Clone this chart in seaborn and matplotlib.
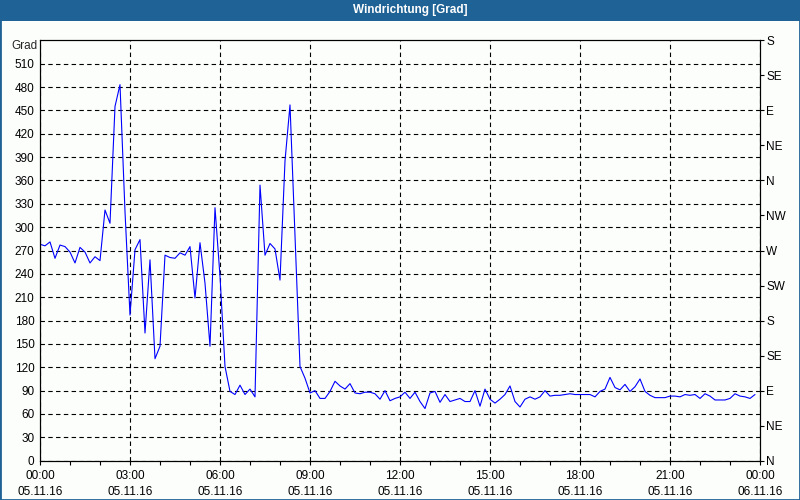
import numpy as np
import pandas as pd
import matplotlib
matplotlib.use('Agg')
import matplotlib.pyplot as plt
import matplotlib.dates as mdates
from matplotlib.patches import Rectangle
import seaborn as sns

# Windrichtung in Grad, 10-Minuten-Werte vom 05.11.16
grad = [278, 276, 281, 260, 277, 275, 268, 254, 274, 268, 254, 262, 257,
        322, 305, 455, 483, 320, 187, 271, 284, 164, 258, 131, 147, 264,
        261, 260, 267, 264, 275, 209, 280, 228, 147, 325, 237, 121, 89,
        85, 97, 85, 92, 82, 354, 264, 279, 272, 232, 385, 457, 290, 121,
        106, 87, 90, 80, 80, 89, 102, 96, 92, 99, 87, 86, 88, 88, 86,
        79, 90, 77, 80, 82, 88, 80, 88, 76, 67, 87, 89, 75, 85, 76, 78,
        80, 76, 76, 90, 70, 92, 79, 74, 79, 85, 96, 76, 69, 79, 82, 79,
        82, 90, 83, 84, 84, 85, 86, 85, 85, 85, 85, 82, 89, 92, 107, 94,
        91, 98, 89, 95, 105, 89, 84, 81, 81, 81, 83, 83, 82, 85, 84, 85,
        80, 86, 83, 78, 78, 78, 80, 86, 83, 82, 80, 85]
start = '2016-11-05 00:00'
ende = '2016-11-06 00:00'
grad_ticks = list(range(0, 511, 30))
richtung_ticks = list(range(0, 541, 45))
richtungen = ['N', 'NE', 'E', 'SE', 'S', 'SW', 'W', 'NW', 'N', 'NE', 'E', 'SE', 'S']

zeit = pd.date_range(start, periods=len(grad), freq='10min')
df = pd.DataFrame({'zeit': zeit, 'grad': grad})

bg = '#fcfefc'
blau = '#1f6295'
fs = 8.5

sns.set_style('white')
plt.rcParams['font.family'] = ['Liberation Sans', 'DejaVu Sans']
plt.rcParams['font.size'] = fs

fig = plt.figure(figsize=(8, 5), dpi=100, facecolor=bg)
ax = fig.add_axes([0.05, 0.0786, 0.9, 0.8408])
ax.set_facecolor(bg)

sns.lineplot(data=df, x='zeit', y='grad', ax=ax, color='#0000ff', linewidth=0.8)

ax.set_xlim(pd.Timestamp(start), pd.Timestamp(ende))
ax.set_ylim(0, 540)
ax.set_yticks(grad_ticks)
ax.set_xlabel('')
ax.set_ylabel('')

ax.xaxis.set_major_locator(mdates.HourLocator(byhour=range(0, 24, 3)))
ax.xaxis.set_minor_locator(mdates.HourLocator())
ax.xaxis.set_major_formatter(mdates.DateFormatter('%H:%M\n%d.%m.%y'))

ax.grid(True, axis='both', which='major', color='black', linestyle=(0, (4, 3)),
        linewidth=0.8)
ax.tick_params(axis='y', left=False, length=0, pad=4, labelsize=fs, colors='black')
ax.tick_params(axis='x', which='both', bottom=True, direction='out', length=3,
               width=0.8, pad=4, labelsize=fs, colors='black')
plt.setp(ax.get_xticklabels(), linespacing=1.4)

for s in ax.spines.values():
    s.set_color('black')
    s.set_linewidth(0.8)
    s.set_visible(True)

ax2 = ax.twinx()
ax2.set_ylim(0, 540)
ax2.set_yticks(richtung_ticks)
ax2.set_yticklabels(richtungen)
ax2.grid(False)
ax2.tick_params(axis='y', right=True, direction='out', length=3, width=0.8,
                pad=1.5, labelsize=fs, colors='black')
for s in ax2.spines.values():
    s.set_color('black')
    s.set_linewidth(0.8)

fig.text(37 / 800, 1 - 46 / 500, 'Grad', ha='right', va='center', fontsize=fs)

fig.patches.append(Rectangle((0, 1 - 21 / 500), 1, 21 / 500, transform=fig.transFigure,
                             facecolor=blau, edgecolor='none', zorder=0))
fig.text(410 / 800, 1 - 10.5 / 500, 'Windrichtung [Grad]', color='white',
         fontweight='bold', fontsize=8.5, ha='center', va='center')
fig.patches.append(Rectangle((0, 0), 1, 1, transform=fig.transFigure, fill=False,
                             edgecolor=blau, linewidth=2, zorder=5))

fig.savefig('out.png', dpi=100, facecolor=bg)
